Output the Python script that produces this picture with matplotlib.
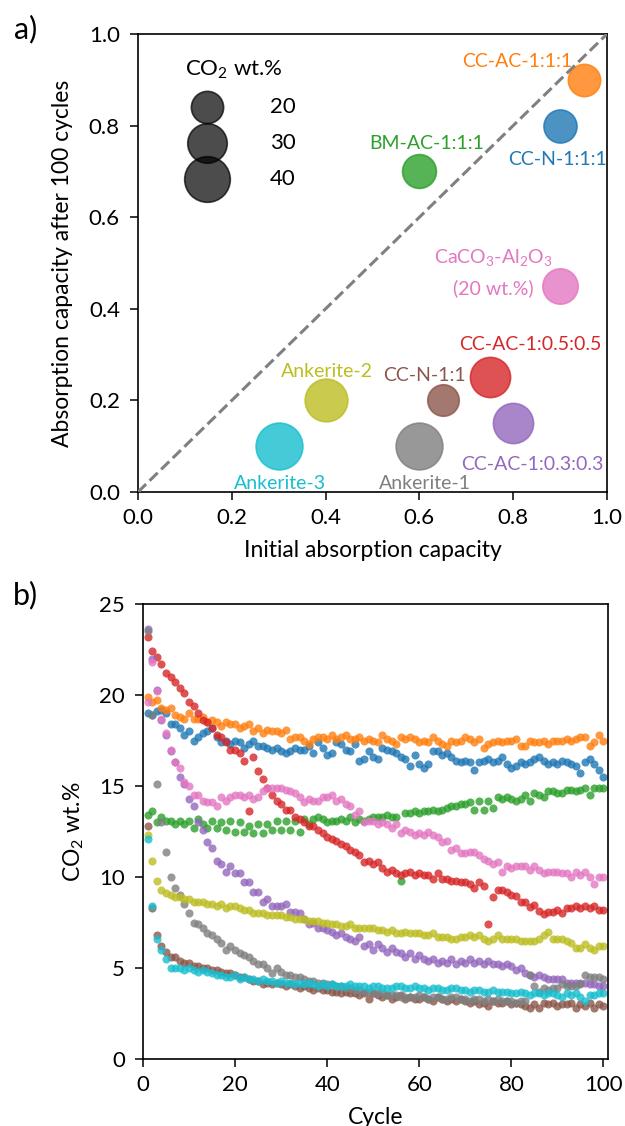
import matplotlib
matplotlib.use("Agg")
import matplotlib.pyplot as plt
import numpy as np

plt.rcParams['font.family'] = ['Lato', 'DejaVu Sans']
plt.rcParams['mathtext.fontset'] = 'custom'
plt.rcParams['mathtext.rm'] = 'Lato'
plt.rcParams['mathtext.it'] = 'Lato:italic'
plt.rcParams['mathtext.bf'] = 'Lato:bold'

# ---------------- panel a data ----------------
names = ["CC-N-1:1:1", "CC-AC-1:1:1", "BM-AC-1:1:1", "CC-AC-1:0.5:0.5", "CC-AC-1:0.3:0.3",
         "CC-N-1:1", "CaCO3-Al2O3", "Ankerite-1", "Ankerite-2", "Ankerite-3"]
colors = ["tab:blue", "tab:orange", "tab:green", "tab:red", "tab:purple",
          "tab:brown", "tab:pink", "tab:gray", "tab:olive", "tab:cyan"]
initial_cap = [0.90, 0.95, 0.60, 0.75, 0.80, 0.65, 0.90, 0.60, 0.40, 0.30]
after100_cap = [0.80, 0.90, 0.70, 0.25, 0.15, 0.20, 0.45, 0.10, 0.20, 0.10]
co2_wt = [21, 20, 22, 31, 31, 19, 24, 42, 35, 42]
legend_sizes = [20, 30, 40]

# label positions (text anchor) in data coords
label_text = ["CC-N-1:1:1", "CC-AC-1:1:1", "BM-AC-1:1:1", "CC-AC-1:0.5:0.5", "CC-AC-1:0.3:0.3",
              "CC-N-1:1", "CaCO$_3$-Al$_2$O$_3$", "Ankerite-1", "Ankerite-2", "Ankerite-3"]
label_x = [0.894, 0.808, 0.616, 0.837, 0.841, 0.611, 0.757, 0.612, 0.402, 0.302]
label_y = [0.715, 0.929, 0.748, 0.309, 0.049, 0.243, 0.499, 0.007, 0.250, 0.007]

# ---------------- panel b data ----------------
cycles = list(range(1, 101))
cc_n_111 = [19.0, 18.9, 19.1, 19.2, 19.0, 18.4, 18.4, 18.2, 17.8, 18.0,
            17.5, 17.7, 17.9, 18.0, 18.2, 17.7, 17.4, 17.5, 17.3, 17.5,
            17.4, 17.1, 17.3, 17.5, 17.2, 17.2, 17.1, 17.0, 17.1, 16.9,
            16.8, 16.9, 17.1, 17.0, 17.0, 17.2, 16.8, 17.4, 17.1, 16.7,
            16.8, 17.4, 17.3, 17.0, 16.9, 17.3, 16.4, 16.5, 16.9, 16.6,
            16.5, 17.1, 17.0, 16.9, 16.8, 16.6, 16.5, 16.1, 16.7, 16.2,
            16.0, 16.2, 16.9, 16.9, 16.7, 16.8, 16.6, 16.4, 16.3, 16.4,
            16.3, 15.9, 16.3, 16.4, 16.5, 16.3, 16.4, 16.6, 16.2, 16.0,
            16.1, 16.3, 16.2, 16.3, 16.5, 16.6, 16.4, 16.2, 16.3, 16.2,
            16.4, 16.3, 16.2, 16.1, 15.7, 16.3, 16.5, 16.2, 15.9, 15.5]
cc_ac_111 = [19.9, 19.6, 19.7, 19.3, 19.2, 19.3, 18.9, 18.8, 18.7, 19.0,
             18.7, 18.7, 18.8, 18.5, 18.6, 18.5, 18.3, 18.5, 18.4, 18.4,
             18.2, 18.3, 18.4, 18.0, 18.2, 17.9, 18.1, 18.0, 18.0, 17.9,
             18.1, 17.6, 17.7, 17.7, 17.5, 17.3, 17.6, 17.7, 17.7, 17.6,
             17.8, 17.6, 17.7, 17.8, 17.6, 17.6, 17.7, 17.5, 17.6, 17.5,
             17.4, 17.8, 17.6, 17.5, 17.3, 17.7, 17.6, 17.7, 17.6, 17.4,
             17.5, 17.4, 17.7, 17.5, 17.3, 17.2, 17.5, 17.4, 17.5, 17.7,
             17.6, 17.4, 17.6, 17.1, 17.3, 17.4, 17.5, 17.4, 17.5, 17.5,
             17.6, 17.2, 17.2, 17.5, 17.4, 17.4, 17.5, 17.3, 17.5, 17.5,
             17.5, 17.6, 17.5, 17.6, 17.7, 17.7, 17.2, 17.4, 17.8, 17.5]
bm_ac_111 = [13.4, 13.6, 13.0, 13.3, 13.1, 13.1, 12.9, 13.1, 12.9, 13.1,
             12.7, 13.2, 12.9, 12.7, 13.1, 12.7, 13.0, 12.6, 13.1, 12.5,
             13.0, 12.5, 12.8, 12.4, 12.9, 12.4, 12.9, 12.6, 13.1, 12.6,
             13.1, 12.6, 13.1, 12.5, 13.2, 12.9, 13.2, 13.3, 13.2, 13.0,
             13.1, 13.1, 13.2, 13.1, 13.3, 13.0, 13.2, 13.1, 13.2, 13.3,
             13.3, 13.3, 13.4, 13.3, 13.3, 9.8, 13.5, 13.5, 13.6, 13.5,
             13.6, 13.6, 13.7, 13.6, 13.7, 13.8, 13.9, 13.9, 14.0, 14.0,
             14.1, 13.7, 14.2, 13.7, 14.2, 13.8, 14.4, 14.3, 14.4, 14.3,
             14.2, 14.3, 14.5, 14.2, 14.6, 14.5, 14.4, 14.7, 14.7, 14.6,
             14.6, 14.8, 14.8, 14.7, 14.8, 14.9, 14.5, 14.9, 14.9, 14.9]
cc_ac_1_05 = [23.2, 22.4, 22.1, 21.7, 21.2, 21.0, 20.7, 20.4, 20.1, 19.6,
              19.4, 19.0, 18.6, 18.5, 18.2, 17.8, 17.7, 17.4, 17.0, 17.0,
              16.8, 16.4, 13.6, 16.6, 15.8, 15.4, 14.9, 14.5, 14.2, 14.0,
              13.7, 13.7, 13.3, 13.2, 13.0, 12.8, 12.8, 12.6, 12.4, 12.2,
              12.1, 12.0, 11.8, 11.7, 11.5, 11.4, 11.2, 10.8, 10.9, 10.7,
              10.8, 10.5, 10.3, 10.4, 10.2, 10.1, 10.2, 10.3, 10.1, 10.2,
              10.1, 10.1, 9.9, 10.2, 9.9, 9.9, 9.8, 9.8, 9.7, 9.7,
              9.6, 9.4, 9.7, 9.5, 7.4, 8.9, 9.3, 9.3, 9.2, 9.0,
              8.95, 8.6, 8.6, 8.35, 8.45, 8.15, 7.95, 8.1, 8.1, 8.2,
              8.0, 8.3, 8.3, 8.4, 8.3, 8.4, 8.3, 8.4, 8.2, 8.2]
cc_ac_1_03 = [23.6, 22.0, 20.3, 18.6, 17.8, 16.9, 16.3, 15.5, 15.1, 14.3,
              13.9, 13.0, 12.6, 11.9, 11.6, 10.9, 10.7, 10.3, 10.6, 10.2,
              10.2, 9.7, 9.7, 9.2, 9.2, 8.6, 8.8, 8.4, 8.4, 8.4,
              8.5, 8.1, 8.1, 8.0, 7.7, 7.4, 7.5, 7.2, 7.2, 7.1,
              7.0, 6.8, 6.9, 6.7, 6.6, 6.5, 6.7, 6.2, 6.3, 6.0,
              6.3, 6.1, 5.9, 6.1, 5.9, 5.8, 5.6, 5.8, 5.5, 5.7,
              5.5, 5.4, 5.5, 5.3, 5.4, 5.3, 5.5, 5.2, 5.4, 5.3,
              5.5, 5.3, 5.4, 5.2, 5.4, 5.2, 5.2, 5.1, 5.2, 5.1,
              4.9, 5.0, 4.7, 4.6, 4.5, 4.6, 4.5, 4.4, 4.4, 4.4,
              4.4, 4.2, 4.2, 4.2, 4.2, 4.2, 4.1, 4.1, 4.0, 4.0]
cc_n_11 = [12.8, 8.3, 6.8, 6.2, 5.9, 5.6, 5.6, 5.4, 5.3, 5.3,
           5.1, 5.1, 5.0, 5.0, 4.9, 4.9, 4.8, 4.7, 4.7, 4.6,
           4.5, 4.5, 4.4, 4.3, 4.3, 4.1, 4.2, 4.1, 4.2, 4.1,
           4.0, 4.1, 4.0, 3.9, 4.0, 3.9, 3.8, 3.9, 3.8, 3.8,
           3.7, 3.7, 3.6, 3.7, 3.6, 3.6, 3.5, 3.6, 3.3, 3.6,
           3.5, 3.4, 3.5, 3.3, 3.4, 3.5, 3.3, 3.4, 3.3, 3.3,
           3.4, 3.3, 3.2, 3.4, 3.3, 3.2, 3.3, 3.2, 3.3, 3.2,
           3.1, 3.2, 3.0, 3.1, 2.9, 3.2, 3.1, 3.1, 3.2, 3.0,
           3.1, 3.0, 2.9, 2.8, 3.0, 2.8, 3.1, 3.0, 3.1, 2.9,
           3.0, 3.0, 3.1, 2.8, 3.0, 2.9, 3.1, 2.8, 3.0, 2.9]
caco3_al2o3 = [19.6, 21.8, 20.2, 18.7, 17.9, 17.0, 16.3, 16.0, 15.2, 15.0,
               14.5, 14.5, 14.2, 14.1, 14.1, 13.9, 14.4, 14.2, 14.4, 14.5,
               14.5, 14.4, 14.5, 14.3, 14.4, 14.7, 14.9, 14.9, 14.9, 14.9,
               14.8, 14.7, 14.6, 14.4, 14.1, 14.3, 14.2, 14.2, 14.4, 14.4,
               14.5, 14.2, 14.3, 14.0, 13.9, 13.4, 13.6, 13.0, 13.1, 13.1,
               12.9, 13.0, 12.9, 12.7, 12.9, 12.4, 12.6, 12.5, 12.3, 12.4,
               12.3, 12.5, 12.3, 12.2, 11.9, 12.0, 11.5, 11.6, 11.3, 11.3,
               11.4, 11.4, 11.2, 11.0, 10.9, 10.7, 10.8, 10.3, 10.6, 10.5,
               10.6, 10.6, 10.6, 10.4, 10.6, 10.4, 10.2, 10.3, 10.3, 10.3,
               10.2, 10.2, 10.0, 10.3, 10.1, 10.3, 10.0, 9.6, 10.0, 10.0]
ankerite_1 = [23.5, 18.9, 15.1, 13.0, 11.4, 10.0, 9.4, 9.0, 8.5, 8.0,
              7.5, 7.4, 7.2, 6.9, 6.8, 6.6, 6.4, 6.0, 6.2, 6.0,
              5.8, 5.7, 5.6, 5.4, 5.2, 5.2, 5.0, 4.7, 5.0, 4.8,
              4.6, 4.6, 4.5, 4.5, 4.4, 4.3, 4.3, 4.2, 4.2, 4.1,
              4.1, 4.0, 4.0, 3.9, 3.9, 3.8, 3.8, 3.7, 3.7, 3.6,
              3.6, 3.6, 3.5, 3.5, 3.5, 3.4, 3.4, 3.4, 3.4, 3.5,
              3.4, 3.3, 3.4, 3.4, 3.3, 3.3, 3.4, 3.4, 3.3, 3.3,
              3.2, 3.3, 3.3, 3.2, 3.3, 3.2, 3.3, 3.2, 3.2, 3.2,
              3.1, 3.2, 3.2, 4.6, 4.0, 3.7, 3.9, 3.8, 3.9, 3.9,
              4.1, 4.0, 4.0, 4.0, 4.1, 4.6, 4.5, 4.5, 4.5, 4.4]
ankerite_2 = [12.3, 10.9, 9.8, 9.3, 9.1, 9.0, 8.9, 8.9, 8.8, 8.8,
              8.6, 8.6, 8.6, 8.5, 8.5, 8.4, 8.5, 8.3, 8.4, 8.4,
              8.3, 8.2, 8.2, 8.0, 8.0, 8.0, 7.9, 7.9, 7.9, 7.9,
              7.8, 7.8, 7.7, 7.7, 7.7, 7.6, 7.6, 7.6, 7.5, 7.5,
              7.4, 7.4, 7.3, 7.3, 7.4, 7.2, 7.2, 7.2, 7.2, 7.2,
              7.1, 7.1, 7.0, 7.1, 6.9, 6.9, 7.0, 6.9, 6.9, 6.9,
              6.8, 6.8, 6.9, 6.7, 6.7, 6.7, 6.6, 6.6, 6.7, 6.7,
              6.8, 6.7, 6.8, 6.6, 6.5, 6.6, 6.8, 6.6, 6.6, 6.6,
              6.6, 6.5, 6.5, 6.5, 6.5, 6.6, 6.8, 7.0, 6.6, 6.6,
              6.6, 6.5, 6.4, 6.1, 6.1, 6.3, 6.1, 6.0, 6.2, 6.2]
ankerite_3 = [12.1, 8.4, 6.6, 6.0, 5.5, 5.0, 5.0, 5.0, 4.9, 5.0,
              4.9, 4.8, 4.9, 4.8, 4.7, 4.6, 4.6, 4.5, 4.5, 4.6,
              4.4, 4.5, 4.4, 4.4, 4.3, 4.4, 4.3, 4.3, 4.2, 4.3,
              4.2, 4.2, 4.1, 4.2, 4.1, 4.2, 4.1, 4.0, 4.1, 4.0,
              4.1, 4.0, 4.0, 4.0, 4.1, 4.0, 4.0, 4.0, 3.9, 4.0,
              4.0, 3.9, 3.9, 3.9, 4.0, 4.0, 3.9, 3.9, 4.0, 3.9,
              3.9, 3.8, 3.9, 3.9, 3.8, 3.8, 3.9, 3.9, 3.8, 3.8,
              3.7, 3.8, 3.8, 3.7, 3.7, 3.8, 3.7, 3.7, 3.7, 3.6,
              3.6, 3.7, 3.6, 3.5, 3.6, 3.6, 3.5, 3.6, 3.6, 3.5,
              3.4, 3.6, 3.5, 3.6, 3.4, 3.2, 3.5, 3.5, 3.6, 3.6]

series_b = [cc_n_111, cc_ac_111, bm_ac_111, cc_ac_1_05, cc_ac_1_03,
            cc_n_11, caco3_al2o3, ankerite_1, ankerite_2, ankerite_3]

TICK_FS = 16
LAB_FS = 16.5

fig = plt.figure(figsize=(6.25, 11.26), dpi=100)
ax1 = fig.add_axes([138/625, 1-492/1126, 469/625, 458/1126])
ax2 = fig.add_axes([143/625, 1-1059/1126, 465/625, 455/1126])

for ax in (ax1, ax2):
    for sp in ax.spines.values():
        sp.set_linewidth(1.2)
    ax.tick_params(labelsize=TICK_FS, width=1.1, length=5.5, pad=6)
    ax.tick_params(axis='y', pad=7.5)

# ---- panel a ----
size_k = 27
for i in range(len(names)):
    ax1.scatter(initial_cap[i], after100_cap[i], s=size_k*co2_wt[i], c=colors[i],
                alpha=0.8, edgecolors=colors[i], linewidths=1.2, zorder=2)
ax1.plot([0, 1], [0, 1], ls='--', color='gray', lw=2.2, zorder=3)

for i in range(len(names)):
    ax1.text(label_x[i], label_y[i], label_text[i], color=colors[i], fontsize=14,
             ha='center', va='baseline', zorder=4)
ax1.text(0.757, 0.432, "(20 wt.%)", color=colors[6], fontsize=14,
         ha='center', va='baseline', zorder=4)

handles = [ax1.scatter([], [], s=size_k*v, c='k', alpha=0.7, edgecolors='k', linewidths=1.2)
           for v in legend_sizes]
leg = ax1.legend(handles, [str(v) for v in legend_sizes], title="CO$_2$ wt.%",
                 loc='upper left', bbox_to_anchor=(0.077, 0.971), frameon=False,
                 fontsize=TICK_FS, title_fontsize=TICK_FS, scatterpoints=1, labelspacing=0.72,
                 handlelength=2.0, handletextpad=1.8, borderpad=0, alignment='left')

ax1.set_xlim(0, 1)
ax1.set_ylim(0, 1)
ax1.set_xticks([0, 0.2, 0.4, 0.6, 0.8, 1.0])
ax1.set_yticks([0, 0.2, 0.4, 0.6, 0.8, 1.0])
ax1.set_xticklabels(["0.0", "0.2", "0.4", "0.6", "0.8", "1.0"])
ax1.set_yticklabels(["0.0", "0.2", "0.4", "0.6", "0.8", "1.0"])
ax1.set_xlabel("Initial absorption capacity", fontsize=LAB_FS)
ax1.set_ylabel("Absorption capacity after 100 cycles", fontsize=LAB_FS)
ax1.xaxis.set_label_coords(0.5, -0.105)
ax1.yaxis.set_label_coords(-0.138, 0.5)

# ---- panel b ----
for i, ys in enumerate(series_b):
    ax2.scatter(cycles, ys, s=34, c=colors[i], alpha=0.8, linewidths=0, zorder=2)
ax2.set_xlim(0, 101)
ax2.set_ylim(0, 25)
ax2.set_xticks([0, 20, 40, 60, 80, 100])
ax2.set_yticks([0, 5, 10, 15, 20, 25])
ax2.set_xlabel("Cycle", fontsize=LAB_FS)
ax2.set_ylabel("CO$_2$ wt.%", fontsize=LAB_FS)
ax2.xaxis.set_label_coords(0.5, -0.105)
ax2.yaxis.set_label_coords(-0.122, 0.5)

fig.text(14/625, 1-29/1126, "a)", fontsize=22, ha='left', va='center')
fig.text(13/625, 1-595/1126, "b)", fontsize=22, ha='left', va='center')

fig.savefig("out.png", dpi=100)
